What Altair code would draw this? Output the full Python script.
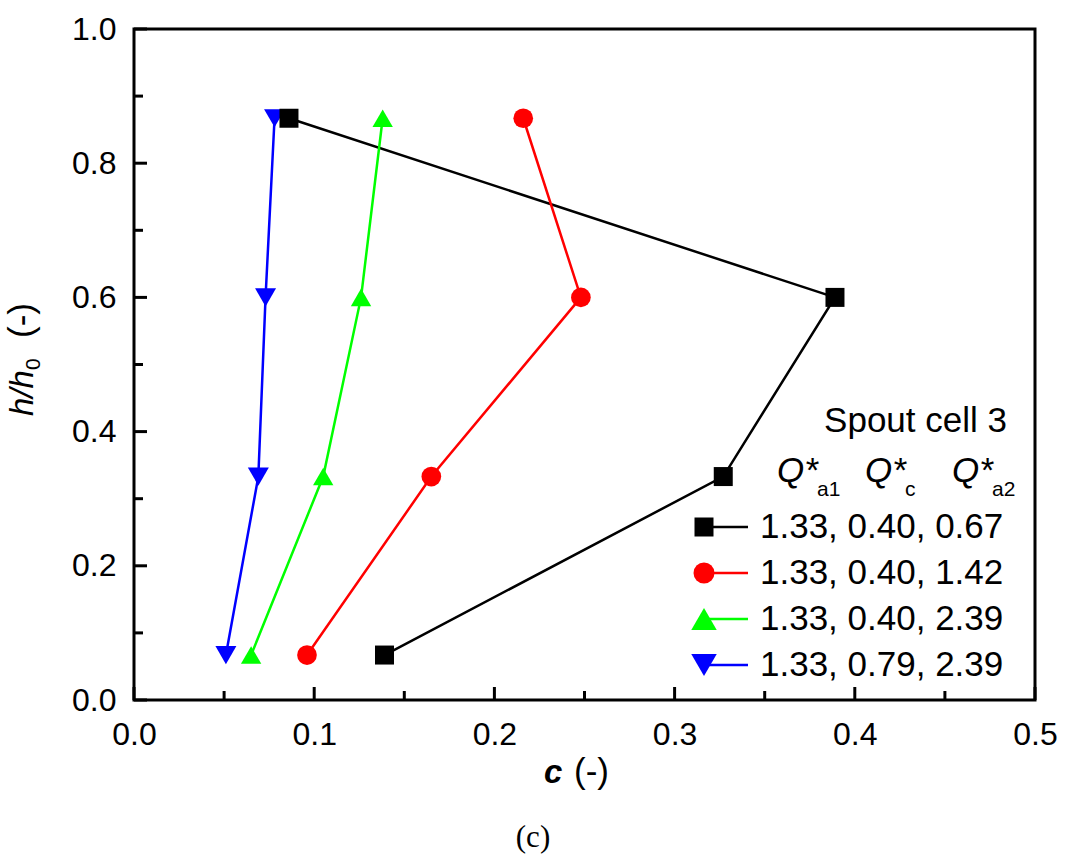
import altair as alt
import pandas as pd

# Concentration profiles along the bed height, spout cell 3
heights = [0.067, 0.333, 0.600, 0.867]
series_labels = [
    "1.33, 0.40, 0.67",
    "1.33, 0.40, 1.42",
    "1.33, 0.40, 2.39",
    "1.33, 0.79, 2.39",
]
conc_a = [0.139, 0.327, 0.389, 0.086]
conc_b = [0.096, 0.165, 0.248, 0.216]
conc_c = [0.065, 0.105, 0.126, 0.138]
conc_d = [0.051, 0.069, 0.073, 0.078]
concentrations = [conc_a, conc_b, conc_c, conc_d]

colors = ["#000000", "#ff0000", "#00ff00", "#0000ff"]
shapes = ["square", "circle", "triangle-up", "triangle-down"]
marker_sizes = [361, 441, 650, 650]

x_major = [0.0, 0.1, 0.2, 0.3, 0.4, 0.5]
x_minor = [0.05, 0.15, 0.25, 0.35, 0.45]
y_major = [0.0, 0.2, 0.4, 0.6, 0.8, 1.0]
y_minor = [0.1, 0.3, 0.5, 0.7, 0.9]

W, H = 901, 671
FONT = "Liberation Sans"

rows = []
for k, (lab, vals) in enumerate(zip(series_labels, concentrations)):
    for j, (c, h) in enumerate(zip(vals, heights)):
        rows.append({"series": lab, "k": k, "step": j, "c": c, "h": h})
df = pd.DataFrame(rows)

xscale = alt.Scale(domain=[0, 0.5], nice=False, zero=False)
yscale = alt.Scale(domain=[0, 1.0], nice=False, zero=False)

x_axis = alt.Axis(values=x_major, format=".1f", title=None, ticks=False, domain=False,
                  grid=False, labelFont=FONT, labelFontSize=32, labelColor="black",
                  labelPadding=19, labelFlush=False, labelOverlap=False)
y_axis = alt.Axis(values=y_major, format=".1f", title=None, ticks=False, domain=False,
                  grid=False, labelFont=FONT, labelFontSize=32, labelColor="black",
                  labelPadding=18, labelFlush=False, labelOverlap=False)

color_enc = alt.Color("series:N", scale=alt.Scale(domain=series_labels, range=colors), legend=None)

lines = alt.Chart(df).mark_line(strokeWidth=2.5).encode(
    x=alt.X("c:Q", scale=xscale, axis=x_axis),
    y=alt.Y("h:Q", scale=yscale, axis=y_axis),
    color=color_enc,
    detail="series:N",
    order="step:O",
)

points = alt.Chart(df).mark_point(filled=True, opacity=1, strokeWidth=0).encode(
    x=alt.X("c:Q", scale=xscale, axis=x_axis),
    y=alt.Y("h:Q", scale=yscale, axis=y_axis),
    color=color_enc,
    shape=alt.Shape("series:N", scale=alt.Scale(domain=series_labels, range=shapes), legend=None),
    size=alt.Size("series:N", scale=alt.Scale(domain=series_labels, range=marker_sizes), legend=None),
    order=alt.Order("k:Q", sort="descending"),
)


def x_ticks(vals, length):
    return alt.Chart(pd.DataFrame({"v": vals})).mark_rule(color="black", strokeWidth=3).encode(
        x=alt.X("v:Q", scale=xscale, axis=x_axis),
        y=alt.value(H),
        y2=alt.value(H - length),
    )


def y_ticks(vals, length):
    return alt.Chart(pd.DataFrame({"v": vals})).mark_rule(color="black", strokeWidth=3).encode(
        y=alt.Y("v:Q", scale=yscale, axis=y_axis),
        x=alt.value(0),
        x2=alt.value(length),
    )


def label(text, x, y, size, style="normal", weight="normal", align="left",
          angle=0, font=FONT, baseline="alphabetic"):
    props = dict(text=text, fontSize=size, fontStyle=style, fontWeight=weight,
                 align=align, baseline=baseline, font=font, color="black")
    if angle:
        props["angle"] = angle
    return alt.Chart(alt.Data(values=[{}])).mark_text(**props).encode(
        x=alt.value(x), y=alt.value(y)
    )


layers = [lines, points,
          x_ticks(x_major, 13), x_ticks(x_minor, 9),
          y_ticks(y_major, 13), y_ticks(y_minor, 9)]

# axis titles
layers += [
    label("c", 410, 754, 33, style="italic", weight="bold"),
    label("(-)", 440, 754, 35),
    label("h/h", -101, 387, 33, style="italic", angle=270),
    label("0", -94, 341, 21, angle=270),
    label("(-)", -101, 309, 35, angle=270),
    label("(c)", 399, 818, 31, align="center", font="Liberation Serif"),
]

# legend header
layers += [
    label("Spout cell 3", 873, 403, 35, align="right"),
    label("Q*", 643, 453, 35, style="italic"),
    label("a1", 683, 467, 21),
    label("Q*", 731, 453, 35, style="italic"),
    label("c", 771, 467, 21),
    label("Q*", 818, 453, 35, style="italic"),
    label("a2", 858, 467, 21),
]

# legend entries
row_sym_y = [498, 544, 590, 636]
for k, lab in enumerate(series_labels):
    ys = row_sym_y[k]
    layers.append(
        alt.Chart(alt.Data(values=[{}])).mark_rule(color=colors[k], strokeWidth=2.5).encode(
            x=alt.value(570), x2=alt.value(614), y=alt.value(ys)
        )
    )
    layers.append(
        alt.Chart(alt.Data(values=[{}])).mark_point(
            shape=shapes[k], size=marker_sizes[k], filled=True, opacity=1,
            color=colors[k], strokeWidth=0
        ).encode(x=alt.value(570), y=alt.value(ys))
    )
    layers.append(label(lab, 626, ys + 11, 35))

chart = alt.layer(*layers).properties(
    width=W, height=H,
    background="white",
    autosize=alt.AutoSizeParams(type="none"),
    padding={"left": 134, "top": 29, "right": 34, "bottom": 158},
).configure_view(stroke="black", strokeWidth=3)

chart.save("out.html", embed_options={"renderer": "svg", "actions": False})
